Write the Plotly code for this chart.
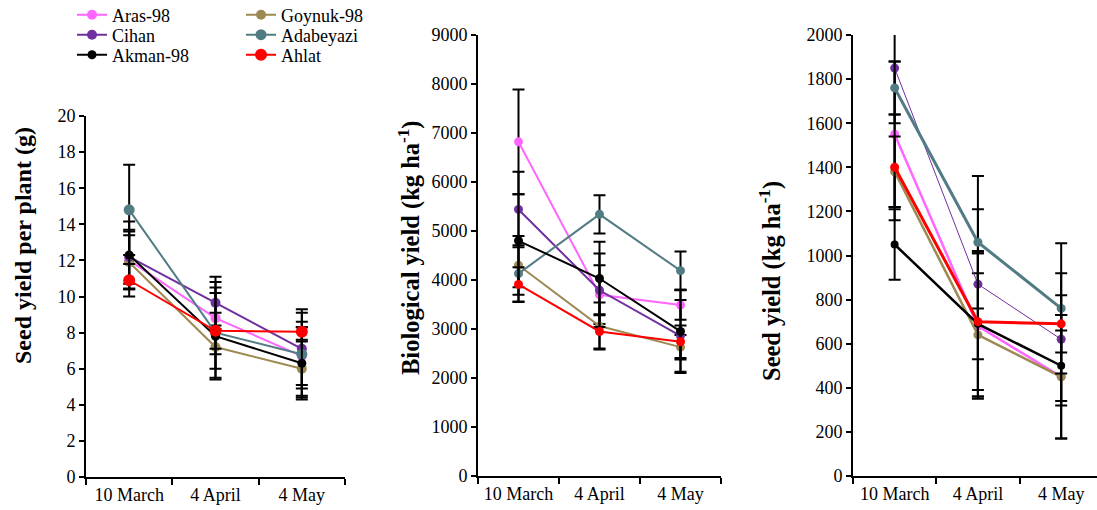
import plotly.graph_objects as go

dates = ["10 March", "4 April", "4 May"]
cultivars = ["Aras-98", "Goynuk-98", "Cihan", "Adabeyazi", "Akman-98", "Ahlat"]
colors = ["#FF66FF", "#9C8A52", "#7030A0", "#527C84", "#000000", "#FF0000"]

# Panel 1: Seed yield per plant (g)
spp_aras = [12.0, 8.8, 6.7]
spp_goynuk = [11.9, 7.2, 6.0]
spp_cihan = [12.2, 9.65, 7.1]
spp_adabeyazi = [14.8, 8.0, 6.8]
spp_akman = [12.3, 7.8, 6.3]
spp_ahlat = [10.9, 8.1, 8.05]
spp_err_aras = [1.6, 2.0, 1.6]
spp_err_goynuk = [1.5, 1.2, 1.6]
spp_err_cihan = [1.5, 1.45, 2.2]
spp_err_adabeyazi = [2.5, 2.5, 2.3]
spp_err_akman = [1.85, 2.4, 2.0]
spp_err_ahlat = [0.9, 1.0, 0.55]

# Panel 2: Biological yield (kg/ha)
bio_aras = [6820, 3700, 3490]
bio_goynuk = [4300, 3060, 2630]
bio_cihan = [5440, 3790, 2860]
bio_adabeyazi = [4130, 5340, 4190]
bio_akman = [4800, 4030, 2950]
bio_ahlat = [3910, 2950, 2740]
bio_err_aras = [1070, 600, 300]
bio_err_goynuk = [600, 480, 250]
bio_err_cihan = [770, 750, 730]
bio_err_adabeyazi = [580, 390, 390]
bio_err_akman = [950, 750, 850]
bio_err_ahlat = [350, 350, 330]

# Panel 3: Seed yield (kg/ha)
sy_aras = [1550, 680, 450]
sy_goynuk = [1380, 640, 450]
sy_cihan = [1850, 870, 620]
sy_adabeyazi = [1760, 1060, 760]
sy_akman = [1050, 690, 500]
sy_ahlat = [1400, 700, 690]
sy_err_aras = [330, 330, 280]
sy_err_goynuk = [160, 280, 280]
sy_err_cihan = [250, 340, 300]
sy_err_adabeyazi = [120, 300, 295]
sy_err_akman = [160, 330, 160]
sy_err_ahlat = [240, 310, 130]

panels = [
    ([spp_aras, spp_goynuk, spp_cihan, spp_adabeyazi, spp_akman, spp_ahlat],
     [spp_err_aras, spp_err_goynuk, spp_err_cihan, spp_err_adabeyazi, spp_err_akman, spp_err_ahlat]),
    ([bio_aras, bio_goynuk, bio_cihan, bio_adabeyazi, bio_akman, bio_ahlat],
     [bio_err_aras, bio_err_goynuk, bio_err_cihan, bio_err_adabeyazi, bio_err_akman, bio_err_ahlat]),
    ([sy_aras, sy_goynuk, sy_cihan, sy_adabeyazi, sy_akman, sy_ahlat],
     [sy_err_aras, sy_err_goynuk, sy_err_cihan, sy_err_adabeyazi, sy_err_akman, sy_err_ahlat]),
]

line_widths = [
    [2, 2, 2, 2, 2, 2],
    [2, 2, 2, 2, 2, 2],
    [2.5, 2.5, 1, 3, 2.5, 3],
]
marker_sizes = [
    [10, 10, 10, 11, 9, 12],
    [9, 9, 9, 9, 9, 9],
    [9, 9, 9, 9, 8, 9],
]
# one legend per entry so the rows can be packed tightly (two columns, three rows)
legend_ids = ["legend", "legend2", "legend3", "legend4", "legend5", "legend6"]
legend_pos = [(72, 15), (241, 15), (72, 35), (241, 35), (72, 55), (241, 55)]

W, H = 1097, 510
FONT = "Liberation Serif, Tinos, Times New Roman, Times, serif"

fig = go.Figure()
for p, (vals, errs) in enumerate(panels):
    ax = "" if p == 0 else str(p + 1)
    for i in range(6):
        fig.add_trace(go.Scatter(
            x=dates, y=vals[i], name=cultivars[i], mode="lines+markers",
            line=dict(color=colors[i], width=line_widths[p][i]),
            marker=dict(color=colors[i], size=marker_sizes[p][i]),
            error_y=dict(type="data", array=errs[i], visible=True, color="black",
                         thickness=2, width=6),
            xaxis="x" + ax, yaxis="y" + ax,
            showlegend=(p == 0), legend=legend_ids[i],
        ))

def px_x(v):
    return v / W

def px_y(v):
    return 1 - v / H

axis_common = dict(showline=True, linecolor="black", linewidth=2, showgrid=False,
                   zeroline=False, ticks="outside", tickcolor="black", tickwidth=2,
                   automargin=False,
                   tickfont=dict(family=FONT, size=18, color="black"))

def title_ann(text, x, y, size):
    return dict(text=text, x=px_x(x), y=px_y(y), xref="paper", yref="paper",
                xanchor="center", yanchor="middle", textangle=-90, showarrow=False,
                font=dict(family=FONT, size=size, color="black"))

layout = dict(
    width=W, height=H, margin=dict(l=0, r=0, t=0, b=0, autoexpand=False),
    plot_bgcolor="white", paper_bgcolor="white",
    font=dict(family=FONT, color="black"),
    xaxis=dict(domain=[px_x(86), px_x(345)], anchor="y", type="category",
               tickson="boundaries", range=[-0.5, 2.5], ticklen=6, **axis_common),
    yaxis=dict(domain=[px_y(477), px_y(116)], anchor="x", range=[0, 20], dtick=2,
               ticklen=5, **axis_common),
    xaxis2=dict(domain=[px_x(478), px_x(721)], anchor="y2", type="category",
                tickson="boundaries", range=[-0.5, 2.5], ticklen=6, **axis_common),
    yaxis2=dict(domain=[px_y(476), px_y(35)], anchor="x2", range=[0, 9000], dtick=1000,
                ticklen=5, **axis_common),
    xaxis3=dict(domain=[px_x(853), 1.0], anchor="y3", type="category",
                tickson="boundaries", range=[-0.5, 2.43], ticklen=6, **axis_common),
    yaxis3=dict(domain=[px_y(476), px_y(35)], anchor="x3", range=[0, 2000], dtick=200,
                ticklen=5, **axis_common),
    annotations=[
        title_ann("<b>Seed yield per plant (g)</b>", 23, 246, 24),
        title_ann("<b>Biological yield (kg ha<sup>-1</sup>)</b>", 409, 248, 24.5),
        title_ann("<b>Seed yield (kg ha<sup>-1</sup>)</b>", 770, 281, 24.5),
    ],
)
for lid, (lx, ly) in zip(legend_ids, legend_pos):
    layout[lid] = dict(x=px_x(lx), y=px_y(ly), xanchor="left", yanchor="middle",
                       font=dict(family=FONT, size=18, color="black"),
                       bgcolor="rgba(0,0,0,0)", borderwidth=0)
fig.update_layout(**layout)
fig.write_html("out.html", config={"displayModeBar": False},
               post_script="document.body.style.margin='0';")
